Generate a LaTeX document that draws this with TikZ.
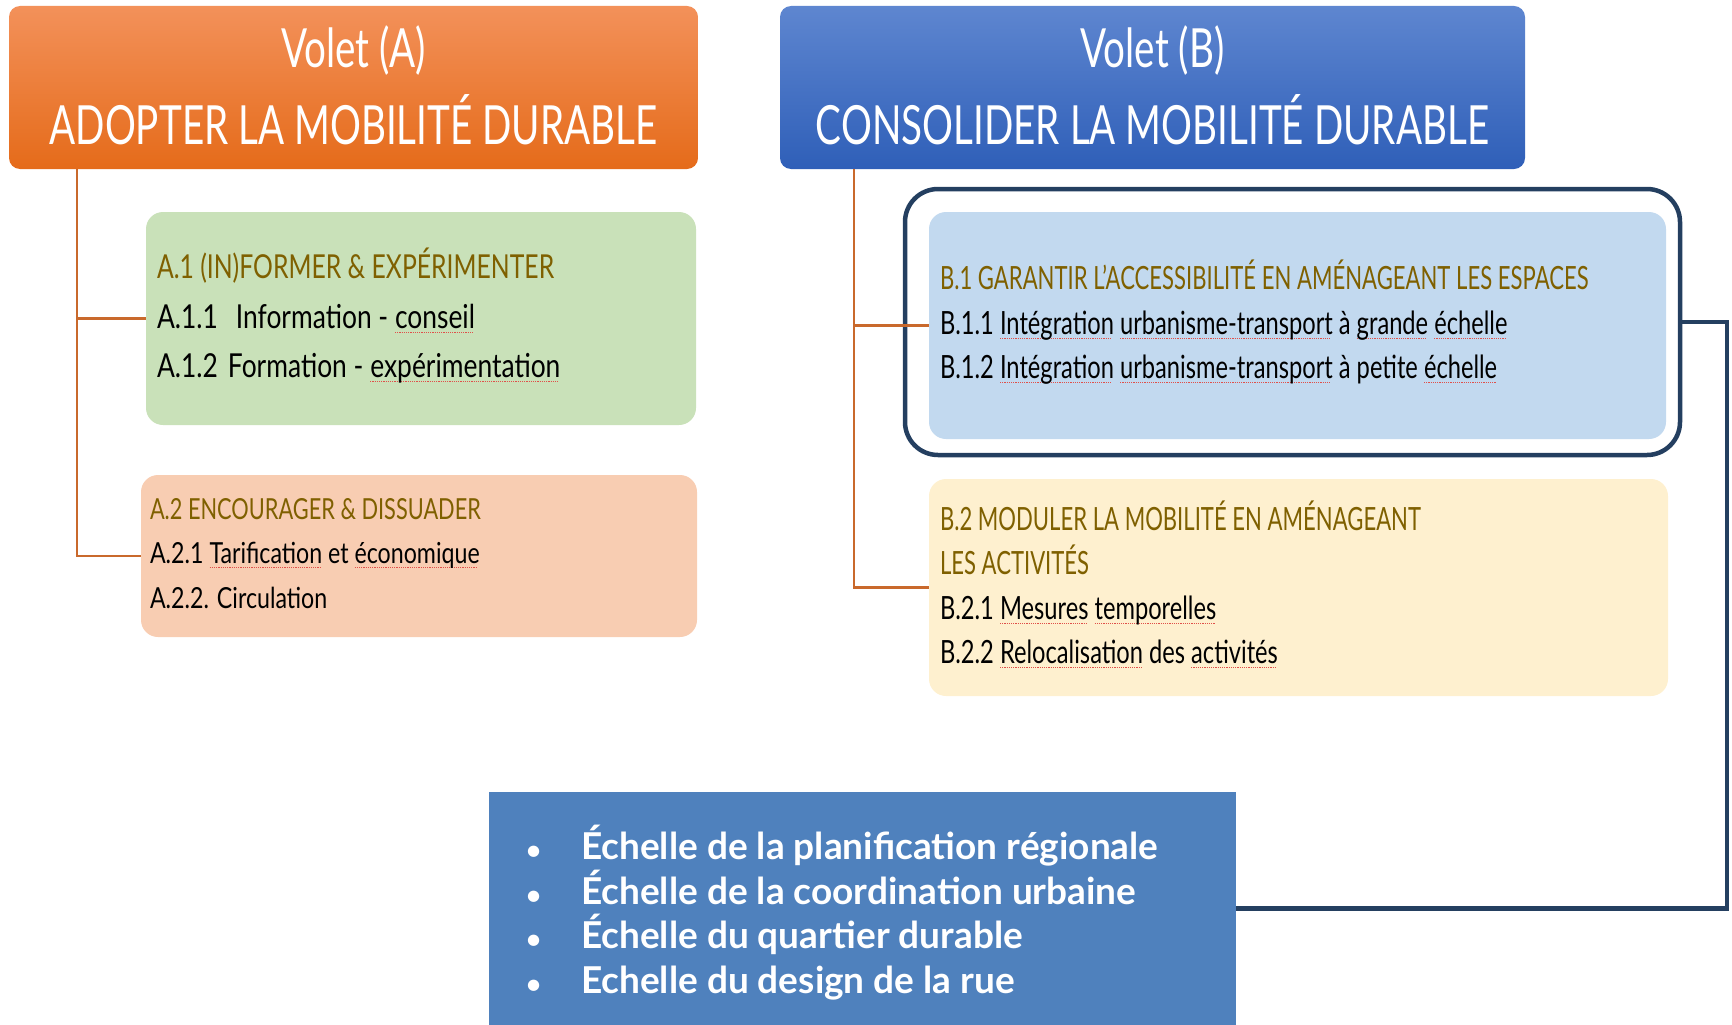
\documentclass[tikz,border=0pt]{standalone}
\usepackage{fontspec}
\setmainfont{Lato}
\newfontfamily\hdfont[FakeStretch=0.715]{Lato}
\newfontfamily\atfont[FakeStretch=0.75]{Lato}
\newfontfamily\aifont[FakeStretch=0.80]{Lato}
\newfontfamily\btfont[FakeStretch=0.69]{Lato}
\newfontfamily\bifont[FakeStretch=0.74]{Lato}
\newfontfamily\scfont[FakeStretch=1.0]{Lato}
\definecolor{orgtop}{HTML}{F3915A}
\definecolor{orgbot}{HTML}{E56B1A}
\definecolor{blutop}{HTML}{5E86D0}
\definecolor{blubot}{HTML}{2F5FB8}
\definecolor{grnfill}{HTML}{C9E1B9}
\definecolor{salfill}{HTML}{F8CDB2}
\definecolor{lbfill}{HTML}{C2D9EF}
\definecolor{ylwfill}{HTML}{FEF0CF}
\definecolor{scfill}{HTML}{4F81BD}
\definecolor{frmcol}{HTML}{243F60}
\definecolor{linkcol}{HTML}{C9692C}
\definecolor{ttlcol}{HTML}{7F6000}
\definecolor{sqcol}{HTML}{E0504A}
\newsavebox\sqbox
\newcommand\sq[1]{\sbox\sqbox{#1}\rlap{\textcolor{sqcol}{\leaders\hbox{\rule[-5pt]{1.2pt}{1.1pt}\kern1pt}\hskip\wd\sqbox}}\usebox\sqbox}
\newcommand\hdsize{\hdfont\fontsize{54}{60}\selectfont}
\newcommand\atsize{\atfont\fontsize{33}{40}\selectfont}
\newcommand\aisize{\aifont\fontsize{33}{40}\selectfont}
\newcommand\aiitsize{\atfont\fontsize{29}{36}\selectfont}
\newcommand\aiisize{\aifont\fontsize{29}{36}\selectfont}
\newcommand\btsize{\btfont\fontsize{32}{38}\selectfont}
\newcommand\bisize{\bifont\fontsize{32}{38}\selectfont}
\newcommand\scsize{\scfont\bfseries\fontsize{37}{44}\selectfont}
\newcommand\blt{\makebox[55pt][l]{\fontsize{26}{26}\selectfont •}}

\begin{document}
\begin{tikzpicture}[x=1pt,y=-1pt]
\tikzstyle{every node}=[inner sep=0pt, outer sep=0pt, rectangle]
\tikzstyle{head}=[rounded corners=11pt, minimum height=163pt, text=white]
\tikzstyle{subbox}=[rounded corners=17pt]
\tikzstyle{txt}=[anchor=base west]
\tikzstyle{hdtxt}=[anchor=base, text=white, font=\hdsize]
\tikzstyle{link}=[draw=linkcol, line width=2.2pt]
\useasboundingbox (0,0) rectangle (1732,1025);

% volet A
\draw (353.5,87.5) node (hA) [head, minimum width=689pt, top color=orgtop, bottom color=orgbot] {};
\draw (353.5,67) node (hA1) [hdtxt] {Volet (A)};
\draw (353.5,144) node (hA2) [hdtxt] {ADOPTER LA MOBILITÉ DURABLE};
\draw (421,318.5) node (a1) [subbox, fill=grnfill, minimum width=550pt, minimum height=213pt] {};
\draw (419,556) node (a2) [subbox, fill=salfill, minimum width=556pt, minimum height=162pt] {};
\draw[link] (hA.south west) ++(68,0) |- (a1.west);
\draw[link] (hA.south west) ++(68,0) |- (a2.west);
\draw (157,278) node (a1t) [txt, text=ttlcol, font=\atsize] {A.1 (IN)FORMER \& EXPÉRIMENTER};
\draw (157,328) node (a11) [txt, font=\aisize] {A.1.1\hspace{18pt}Information - \sq{conseil}};
\draw (157,377) node (a12) [txt, font=\aisize] {A.1.2\hspace{10pt}Formation - \sq{expérimentation}};
\draw (150,519) node (a2t) [txt, text=ttlcol, font=\aiitsize] {A.2 ENCOURAGER \& DISSUADER};
\draw (150,563) node (a21) [txt, font=\aiisize] {A.2.1 \sq{Tarification} et \sq{économique}};
\draw (150,608) node (a22) [txt, font=\aiisize] {A.2.2. Circulation};

% volet B
\draw (1152.5,87.5) node (hB) [head, minimum width=745pt, top color=blutop, bottom color=blubot] {};
\draw (1152.5,67) node (hB1) [hdtxt] {Volet (B)};
\draw (1152.5,144) node (hB2) [hdtxt] {CONSOLIDER LA MOBILITÉ DURABLE};
\draw (1292.5,322) node (fr) [rounded corners=33pt, draw=frmcol, line width=4.5pt, minimum width=775pt, minimum height=266pt] {};
\draw (1297.5,325.5) node (b1) [subbox, fill=lbfill, minimum width=737pt, minimum height=227pt] {};
\draw (1298.5,587.5) node (b2) [subbox, fill=ylwfill, minimum width=739pt, minimum height=217pt] {};
\draw[link] (hB.south west) ++(74,0) |- (b1.west);
\draw[link] (hB.south west) ++(74,0) |- (b2.west);
\draw (940,289) node (b1t) [txt, text=ttlcol, font=\btsize] {B.1 GARANTIR L’ACCESSIBILITÉ EN AMÉNAGEANT LES ESPACES};
\draw (940,334) node (b11) [txt, font=\bisize] {B.1.1 \sq{Intégration} \sq{urbanisme-transport} à \sq{grande} \sq{échelle}};
\draw (940,378) node (b12) [txt, font=\bisize] {B.1.2 \sq{Intégration} \sq{urbanisme-transport} à petite \sq{échelle}};
\draw (940,530) node (b2t) [txt, text=ttlcol, font=\btsize] {B.2 MODULER LA MOBILITÉ EN AMÉNAGEANT};
\draw (940,574) node (b2u) [txt, text=ttlcol, font=\btsize] {LES ACTIVITÉS};
\draw (940,619) node (b21) [txt, font=\bisize] {B.2.1 \sq{Mesures} \sq{temporelles}};
\draw (940,663) node (b22) [txt, font=\bisize] {B.2.2 \sq{Relocalisation} des \sq{activités}};

% echelles
\draw (862.5,908.5) node (sc) [fill=scfill, minimum width=747pt, minimum height=233pt] {};
\draw[draw=frmcol, line width=4.5pt] (fr.east) -- ++(47,0) |- (sc.east);
\draw (526,859) node (sc1) [txt, text=white, font=\scsize] {\blt Échelle de la planification régionale};
\draw (526,904) node (sc2) [txt, text=white, font=\scsize] {\blt Échelle de la coordination urbaine};
\draw (526,948) node (sc3) [txt, text=white, font=\scsize] {\blt Échelle du quartier durable};
\draw (526,993) node (sc4) [txt, text=white, font=\scsize] {\blt Echelle du design de la rue};
\end{tikzpicture}
\end{document}
